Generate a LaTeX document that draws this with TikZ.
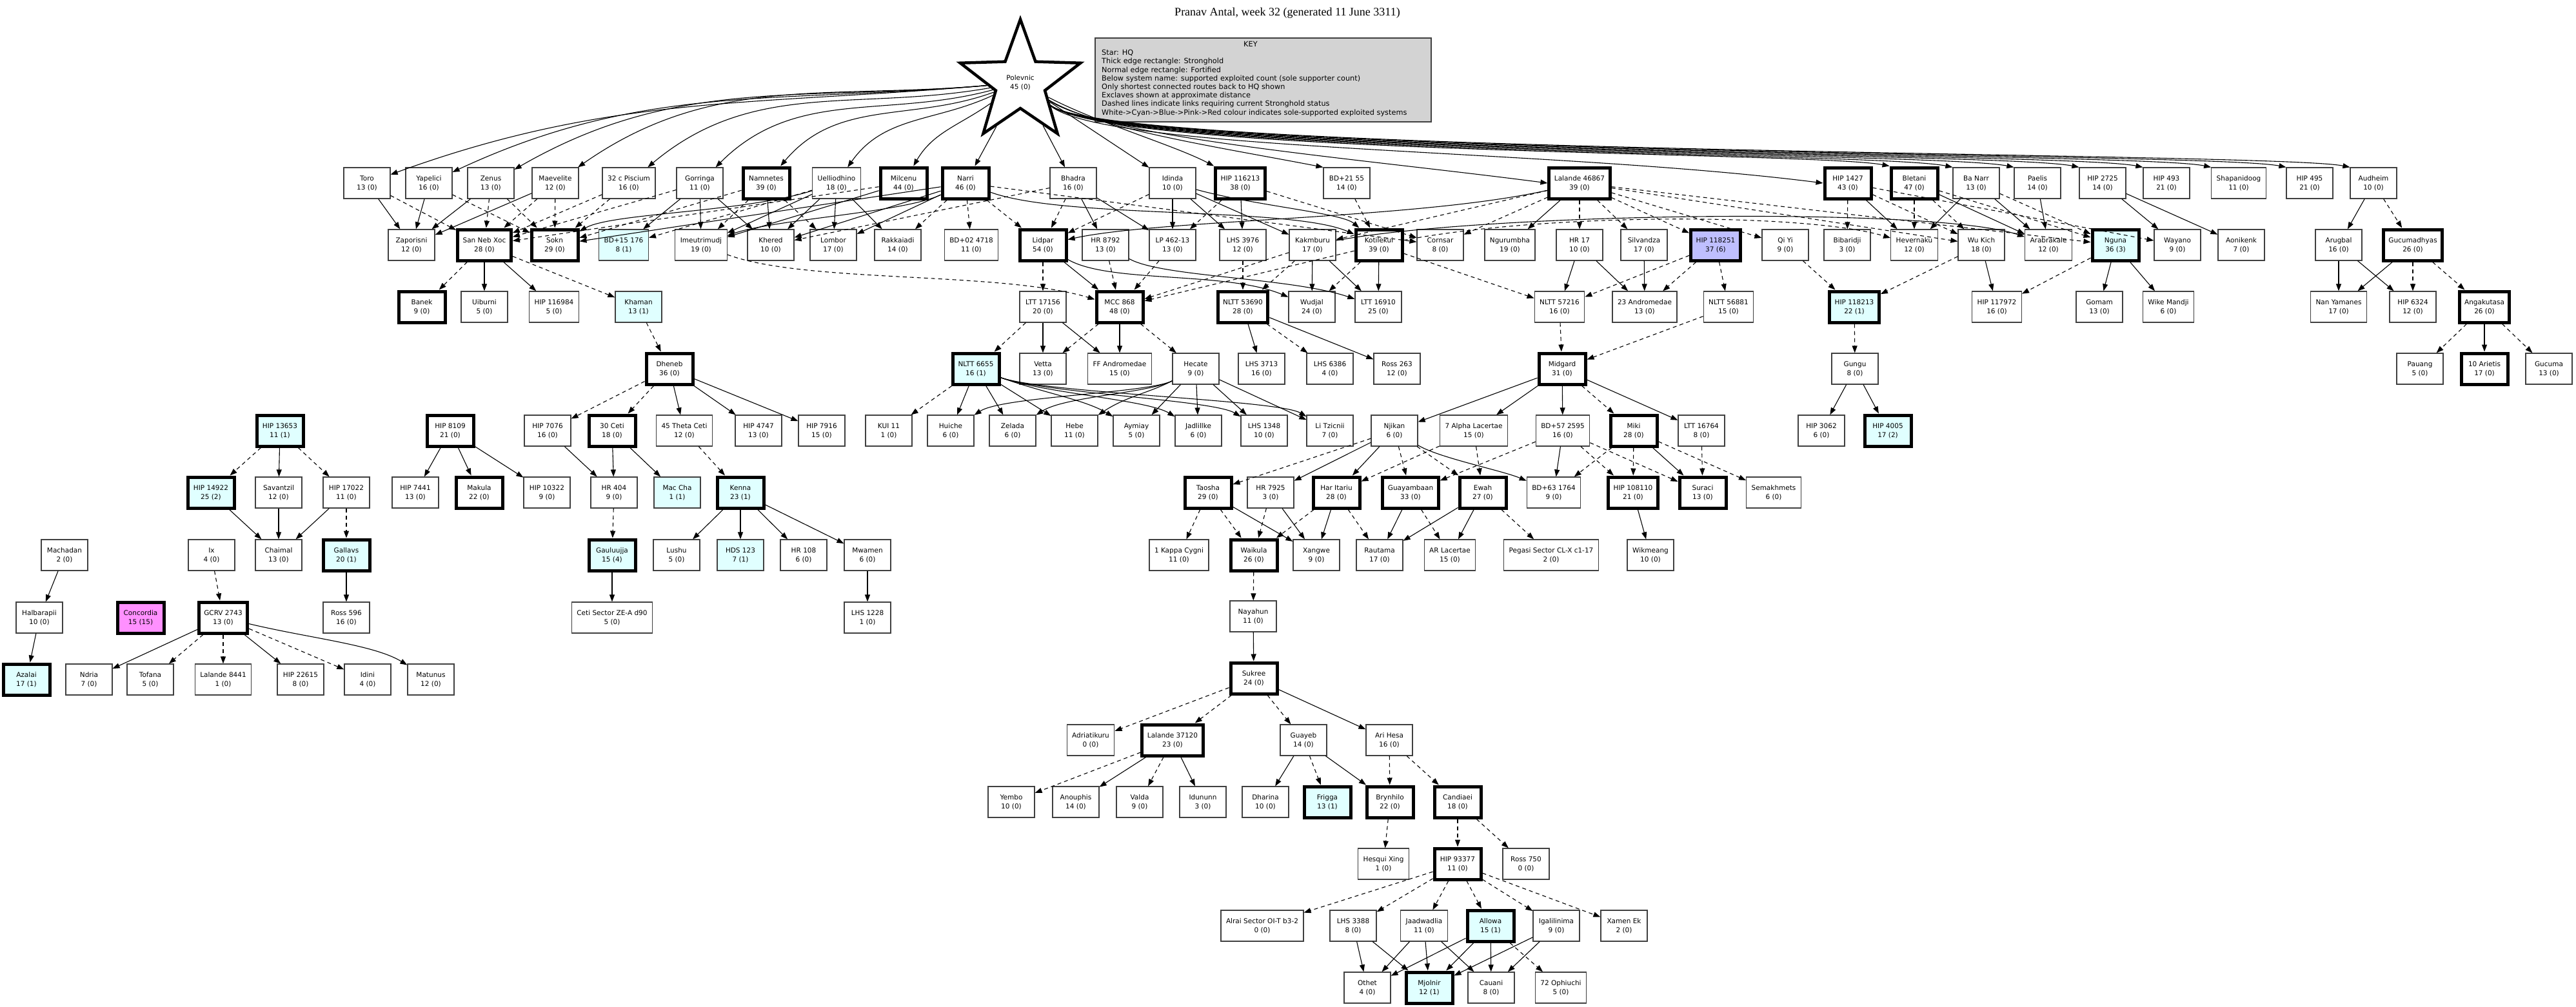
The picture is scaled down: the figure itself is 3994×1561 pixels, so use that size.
\documentclass[tikz,border=0pt]{standalone}
\usepackage{fontspec}
\setmainfont{DejaVu Sans}
\newfontfamily\titlefont{Liberation Serif}
\usetikzlibrary{arrows.meta,shapes.geometric}
\definecolor{cy}{HTML}{E0FFFF}
\definecolor{bl}{HTML}{BFBFFF}
\definecolor{pk}{HTML}{FF90FF}
\definecolor{keyg}{HTML}{D3D3D3}
\tikzset{
 nd/.style={draw=black!75, line width=1.2pt, fill=white, minimum width=72pt, minimum height=48pt, inner xsep=8pt, align=center, font=\fontsize{10.5}{14}\selectfont},
 sh/.style={line width=5pt, draw=black},
 c/.style={fill=cy}, b/.style={fill=bl}, p/.style={fill=pk},
 e/.style={line width=1.1pt, -{Triangle[length=11pt,width=8pt]}},
 d/.style={e, dash pattern=on 6pt off 5pt},
}
\newcommand{\N}[5]{\node[nd,#4] (#1) at (#2,#3) {#5};}
\begin{document}
\begin{tikzpicture}[x=1pt,y=-1pt]
\useasboundingbox (0,0) rectangle (3994,1561);
\node[font=\titlefont\fontsize{18}{20}\selectfont] (title) at (1996,20) {Pranav Antal, week 32 (generated 11 June 3311)};
\node[draw=black!75, line width=1.2pt, fill=keyg, minimum width=521pt, minimum height=130pt, inner sep=0pt] (key) at (1958.5,124) {};
\node[font=\fontsize{11.3}{13.2}\selectfont, align=left, anchor=north west, inner sep=0pt] (keyt) at (1708,64) {\hspace*{220pt}KEY\\Star: HQ\\Thick edge rectangle: Stronghold\\Normal edge rectangle: Fortified\\Below system name: supported exploited count (sole supporter count)\\Only shortest connected routes back to HQ shown\\Exclaves shown at approximate distance\\Dashed lines indicate links requiring current Stronghold status\\White->Cyan->Blue->Pink->Red colour indicates sole-supported exploited systems};
\node[star, star points=5, star point ratio=2.45, minimum size=196pt, draw, line width=4.5pt, fill=white, align=center, font=\fontsize{10.5}{14}\selectfont, inner sep=0pt] (pol) at (1582,128) {Polevnic\\45 (0)};
% row 1
\N{toro}{569}{284}{}{Toro\\13 (0)}
\N{yap}{665}{284}{}{Yapelici\\16 (0)}
\N{zen}{761}{284}{}{Zenus\\13 (0)}
\N{mae}{861}{284}{}{Maevelite\\12 (0)}
\N{pis}{975}{284}{}{32 c Piscium\\16 (0)}
\N{gor}{1085}{284}{}{Gorringa\\11 (0)}
\N{nam}{1188}{284}{sh}{Namnetes\\39 (0)}
\N{uel}{1297}{284}{}{Uelliodhino\\18 (0)}
\N{mil}{1401}{284}{sh}{Milcenu\\44 (0)}
\N{nar}{1497}{284}{sh}{Narri\\46 (0)}
\N{bha}{1664}{284}{}{Bhadra\\16 (0)}
\N{idi}{1818}{284}{}{Idinda\\10 (0)}
\N{h116}{1923}{284}{sh}{HIP 116213\\38 (0)}
\N{bd21}{2088}{284}{}{BD+21 55\\14 (0)}
\N{l468}{2449}{284}{sh}{Lalande 46867\\39 (0)}
\N{h1427}{2865}{284}{sh}{HIP 1427\\43 (0)}
\N{ble}{2968}{284}{sh}{Bletani\\47 (0)}
\N{ban}{3064}{284}{}{Ba Narr\\13 (0)}
\N{pae}{3159}{284}{}{Paelis\\14 (0)}
\N{h2725}{3260}{284}{}{HIP 2725\\14 (0)}
\N{h493}{3359}{284}{}{HIP 493\\21 (0)}
\N{sha}{3471}{284}{}{Shapanidoog\\11 (0)}
\N{h495}{3581}{284}{}{HIP 495\\21 (0)}
\N{aud}{3680}{284}{}{Audheim\\10 (0)}
% row 2
\N{zap}{638}{380}{}{Zaporisni\\12 (0)}
\N{snx}{751}{380}{sh}{San Neb Xoc\\28 (0)}
\N{sokn}{860}{380}{sh}{Sokn\\29 (0)}
\N{bd15}{967}{380}{c}{BD+15 176\\8 (1)}
\N{ime}{1087}{380}{}{Imeutrimudj\\19 (0)}
\N{khe}{1195}{380}{}{Khered\\10 (0)}
\N{lom}{1292}{380}{}{Lombor\\17 (0)}
\N{rak}{1392}{380}{}{Rakkaiadi\\14 (0)}
\N{bd02}{1506}{380}{}{BD+02 4718\\11 (0)}
\N{lid}{1617}{380}{sh}{Lidpar\\54 (0)}
\N{hr8792}{1714}{380}{}{HR 8792\\13 (0)}
\N{lp}{1818}{380}{}{LP 462-13\\13 (0)}
\N{lhs3976}{1927}{380}{}{LHS 3976\\12 (0)}
\N{kak}{2035}{380}{}{Kakmburu\\17 (0)}
\N{kot}{2138}{380}{sh}{Kotilekui\\39 (0)}
\N{cor}{2233}{380}{}{Cornsar\\8 (0)}
\N{ngu}{2341}{380}{}{Ngurumbha\\19 (0)}
\N{hr17}{2449}{380}{}{HR 17\\10 (0)}
\N{sil}{2549}{380}{}{Silvandza\\17 (0)}
\N{h118251}{2660}{380}{sh,b}{HIP 118251\\37 (6)}
\N{qiyi}{2768}{380}{}{Qi Yi\\9 (0)}
\N{bib}{2864}{380}{}{Bibaridji\\3 (0)}
\N{hev}{2968}{380}{}{Hevernaku\\12 (0)}
\N{wuk}{3072}{380}{}{Wu Kich\\18 (0)}
\N{ara}{3176}{380}{}{Arabrakale\\12 (0)}
\N{nguna}{3280}{380}{sh,c}{Nguna\\36 (3)}
\N{way}{3376}{380}{}{Wayano\\9 (0)}
\N{aon}{3475}{380}{}{Aonikenk\\7 (0)}
\N{aru}{3626}{380}{}{Arugbal\\16 (0)}
\N{guc}{3741}{380}{sh}{Gucumadhyas\\26 (0)}
% row 3
\N{banek}{654}{476}{sh}{Banek\\9 (0)}
\N{uib}{751}{476}{}{Uiburni\\5 (0)}
\N{h116984}{859}{476}{}{HIP 116984\\5 (0)}
\N{kha}{990}{476}{c}{Khaman\\13 (1)}
\N{ltt17156}{1617}{476}{}{LTT 17156\\20 (0)}
\N{mcc}{1736}{476}{sh}{MCC 868\\48 (0)}
\N{n53690}{1927}{476}{sh}{NLTT 53690\\28 (0)}
\N{wud}{2034}{476}{}{Wudjal\\24 (0)}
\N{ltt16910}{2137}{476}{}{LTT 16910\\25 (0)}
\N{n57216}{2418}{476}{}{NLTT 57216\\16 (0)}
\N{and23}{2550}{476}{}{23 Andromedae\\13 (0)}
\N{n56881}{2680}{476}{}{NLTT 56881\\15 (0)}
\N{h118213}{2875}{476}{sh,c}{HIP 118213\\22 (1)}
\N{h117972}{3096}{476}{}{HIP 117972\\16 (0)}
\N{gom}{3255}{476}{}{Gomam\\13 (0)}
\N{wik}{3362}{476}{}{Wike Mandji\\6 (0)}
\N{nan}{3626}{476}{}{Nan Yamanes\\17 (0)}
\N{h6324}{3741}{476}{}{HIP 6324\\12 (0)}
\N{ang}{3852}{476}{sh}{Angakutasa\\26 (0)}
% row 4
\N{dhe}{1038}{572}{sh}{Dheneb\\36 (0)}
\N{n6655}{1513}{572}{sh,c}{NLTT 6655\\16 (1)}
\N{vet}{1617}{572}{}{Vetta\\13 (0)}
\N{ffa}{1736}{572}{}{FF Andromedae\\15 (0)}
\N{hec}{1854}{572}{}{Hecate\\9 (0)}
\N{lhs3713}{1956}{572}{}{LHS 3713\\16 (0)}
\N{lhs6386}{2062}{572}{}{LHS 6386\\4 (0)}
\N{ross263}{2166}{572}{}{Ross 263\\12 (0)}
\N{mid}{2422}{572}{sh}{Midgard\\31 (0)}
\N{gungu}{2876}{572}{}{Gungu\\8 (0)}
\N{pau}{3752}{572}{}{Pauang\\5 (0)}
\N{ari10}{3852}{572}{sh}{10 Arietis\\17 (0)}
\N{gucuma}{3952}{572}{}{Gucuma\\13 (0)}
% row 5
\N{h13653}{434}{668}{sh,c}{HIP 13653\\11 (1)}
\N{h8109}{698}{668}{sh}{HIP 8109\\21 (0)}
\N{h7076}{849}{668}{}{HIP 7076\\16 (0)}
\N{ceti30}{949}{668}{sh}{30 Ceti\\18 (0)}
\N{theta}{1061}{668}{}{45 Theta Ceti\\12 (0)}
\N{h4747}{1176}{668}{}{HIP 4747\\13 (0)}
\N{h7916}{1274}{668}{}{HIP 7916\\15 (0)}
\N{kui}{1378}{668}{}{KUI 11\\1 (0)}
\N{hui}{1474}{668}{}{Huiche\\6 (0)}
\N{zel}{1570}{668}{}{Zelada\\6 (0)}
\N{hebe}{1666}{668}{}{Hebe\\11 (0)}
\N{aym}{1762}{668}{}{Aymiay\\5 (0)}
\N{jad}{1858}{668}{}{Jadlillke\\6 (0)}
\N{lhs1348}{1960}{668}{}{LHS 1348\\10 (0)}
\N{litz}{2062}{668}{}{Li Tzicnii\\7 (0)}
\N{nji}{2162}{668}{}{Njikan\\6 (0)}
\N{alpha7}{2285}{668}{}{7 Alpha Lacertae\\15 (0)}
\N{bd57}{2423}{668}{}{BD+57 2595\\16 (0)}
\N{miki}{2533}{668}{sh}{Miki\\28 (0)}
\N{ltt16764}{2638}{668}{}{LTT 16764\\8 (0)}
\N{h3062}{2824}{668}{}{HIP 3062\\6 (0)}
\N{h4005}{2927}{668}{sh,c}{HIP 4005\\17 (2)}
% row 6
\N{h14922}{327}{764}{sh,c}{HIP 14922\\25 (2)}
\N{sav}{432}{764}{}{Savantzil\\12 (0)}
\N{h17022}{537}{764}{}{HIP 17022\\11 (0)}
\N{h7441}{644}{764}{}{HIP 7441\\13 (0)}
\N{mak}{743}{764}{sh}{Makula\\22 (0)}
\N{h10322}{848}{764}{}{HIP 10322\\9 (0)}
\N{hr404}{952}{764}{}{HR 404\\9 (0)}
\N{mac}{1050}{764}{c}{Mac Cha\\1 (1)}
\N{ken}{1148}{764}{sh,c}{Kenna\\23 (1)}
\N{tao}{1873}{764}{sh}{Taosha\\29 (0)}
\N{hr7925}{1970}{764}{}{HR 7925\\3 (0)}
\N{har}{2072}{764}{sh}{Har Itariu\\28 (0)}
\N{gua}{2187}{764}{sh}{Guayambaan\\33 (0)}
\N{ewah}{2299}{764}{sh}{Ewah\\27 (0)}
\N{bd63}{2409}{764}{}{BD+63 1764\\9 (0)}
\N{h108110}{2532}{764}{sh}{HIP 108110\\21 (0)}
\N{sur}{2640}{764}{sh}{Suraci\\13 (0)}
\N{sem}{2750}{764}{}{Semakhmets\\6 (0)}
% row 7
\N{mach}{100}{861}{}{Machadan\\2 (0)}
\N{ix}{328}{861}{}{Ix\\4 (0)}
\N{cha}{432}{861}{}{Chaimal\\13 (0)}
\N{gal}{537}{861}{sh,c}{Gallavs\\20 (1)}
\N{gau}{949}{861}{sh,c}{Gauluujja\\15 (4)}
\N{lus}{1049}{861}{}{Lushu\\5 (0)}
\N{hds}{1148}{861}{c}{HDS 123\\7 (1)}
\N{hr108}{1246}{861}{}{HR 108\\6 (0)}
\N{mwa}{1345}{861}{}{Mwamen\\6 (0)}
\N{kap}{1828}{861}{}{1 Kappa Cygni\\11 (0)}
\N{wai}{1944}{861}{sh}{Waikula\\26 (0)}
\N{xan}{2041}{861}{}{Xangwe\\9 (0)}
\N{rau}{2139}{861}{}{Rautama\\17 (0)}
\N{arl}{2248}{861}{}{AR Lacertae\\15 (0)}
\N{peg}{2405}{861}{}{Pegasi Sector CL-X c1-17\\2 (0)}
\N{wikm}{2559}{861}{}{Wikmeang\\10 (0)}
% row 8
\N{hal}{61}{958}{}{Halbarapii\\10 (0)}
\N{con}{218}{958}{sh,p}{Concordia\\15 (15)}
\N{gcrv}{346}{958}{sh}{GCRV 2743\\13 (0)}
\N{ross596}{537}{958}{}{Ross 596\\16 (0)}
\N{ceti}{949}{958}{}{Ceti Sector ZE-A d90\\5 (0)}
\N{lhs1228}{1345}{958}{}{LHS 1228\\1 (0)}
\N{nay}{1943}{956}{}{Nayahun\\11 (0)}
% row 9
\N{aza}{41}{1054}{sh,c}{Azalai\\17 (1)}
\N{ndr}{138}{1054}{}{Ndria\\7 (0)}
\N{tof}{233}{1054}{}{Tofana\\5 (0)}
\N{l8441}{346}{1054}{}{Lalande 8441\\1 (0)}
\N{h22615}{466}{1054}{}{HIP 22615\\8 (0)}
\N{idini}{570}{1054}{}{Idini\\4 (0)}
\N{mat}{668}{1054}{}{Matunus\\12 (0)}
\N{suk}{1944}{1052}{sh}{Sukree\\24 (0)}
% row 10
\N{adr}{1691}{1148}{}{Adriatikuru\\0 (0)}
\N{l37120}{1818}{1148}{sh}{Lalande 37120\\23 (0)}
\N{guay}{2021}{1148}{}{Guayeb\\14 (0)}
\N{arih}{2154}{1148}{}{Ari Hesa\\16 (0)}
% row 11
\N{yem}{1568}{1244}{}{Yembo\\10 (0)}
\N{ano}{1668}{1244}{}{Anouphis\\14 (0)}
\N{val}{1767}{1244}{}{Valda\\9 (0)}
\N{idu}{1865}{1244}{}{Idununn\\3 (0)}
\N{dha}{1962}{1244}{}{Dharina\\10 (0)}
\N{fri}{2058}{1244}{sh,c}{Frigga\\13 (1)}
\N{bry}{2155}{1244}{sh}{Brynhilo\\22 (0)}
\N{can}{2260}{1244}{sh}{Candiaei\\18 (0)}
% row 12
\N{hes}{2145}{1340}{}{Hesqui Xing\\1 (0)}
\N{h93377}{2260}{1340}{sh}{HIP 93377\\11 (0)}
\N{ross750}{2366}{1340}{}{Ross 750\\0 (0)}
% row 13
\N{alr}{1957}{1436}{}{Alrai Sector OI-T b3-2\\0 (0)}
\N{lhs3388}{2098}{1436}{}{LHS 3388\\8 (0)}
\N{jaa}{2208}{1436}{}{Jaadwadlia\\11 (0)}
\N{all}{2311}{1436}{sh,c}{Allowa\\15 (1)}
\N{iga}{2413}{1436}{}{Igalilinima\\9 (0)}
\N{xam}{2518}{1436}{}{Xamen Ek\\2 (0)}
% row 14
\N{oth}{2120}{1532}{}{Othet\\4 (0)}
\N{mjo}{2216}{1532}{sh,c}{Mjolnir\\12 (1)}
\N{cau}{2312}{1532}{}{Cauani\\8 (0)}
\N{oph}{2420}{1532}{}{72 Ophiuchi\\5 (0)}
% HQ edges
\foreach \n/\o/\i in {toro/185/20,yap/185/25,zen/185/30,mae/185/35,pis/190/40,gor/195/45,nam/200/50,uel/205/55,mil/215/60}
  \draw[e] (pol) to[out=\o,in=\i] (\n);
\draw[e] (pol) -- (nar); \draw[e] (pol) -- (bha); \draw[e] (pol) -- (idi);
\draw[e] (pol) .. controls (1700,190) and (1820,225) .. (h116.north west);
\draw[e] (pol) .. controls (1700,200) and (1900,230) .. (bd21.north west);
\draw[e] (pol) .. controls (1720,215) and (2100,245) .. (l468.west);
\draw[e] (pol) .. controls (1720,235) and (2400,230) .. (h1427.west);
\foreach \n/\x in {ble/2930,ban/3028,pae/3123,h2725/3224,h493/3323,sha/3435,h495/3545,aud/3644}
  \draw[e] (pol) .. controls (1730,240) and (\x-120,235) .. (\n.north west);
% row1 -> row2
\foreach \a/\b in {toro/zap,yap/zap,zen/zap,mae/zap,gor/bd15,gor/ime,gor/khe,nam/khe,uel/ime,uel/khe,uel/lom,uel/rak,mil/ime,nar/sokn,nar/khe,nar/lom,bha/hr8792,bha/lp,idi/lp,idi/lhs3976,idi/kak,h116/lhs3976,l468/ngu,h1427/hev,ble/ara,ban/hev,ban/ara,pae/ara,h2725/way,h2725/aon,aud/aru}
  \draw[e] (\a) -- (\b);
\draw[e] (uel) .. controls (1150,330) and (950,330) .. (sokn);
\draw[e] (nar) .. controls (1400,330) and (1200,340) .. (ime);
\draw[e] (idi) .. controls (1950,320) and (2080,330) .. (kot);
\draw[e] (nar) .. controls (1650,340) and (2000,320) .. (kot);
\draw[e] (l468) .. controls (2200,340) and (1800,340) .. (lid);
\draw[e] (kak) .. controls (2300,330) and (3000,320) .. (ara);
\foreach \a/\b in {toro/snx,yap/sokn,zen/snx,zen/sokn,mae/snx,mae/sokn,pis/snx,pis/sokn,gor/snx,nam/sokn,nam/ime,nam/lom,uel/bd15,mil/snx,nar/rak,nar/bd02,nar/lid,nar/cor,bha/lid,bha/khe,idi/lid,h116/lp,h116/cor,bd21/kot,l468/kak,l468/cor,l468/hr17,l468/sil,l468/h118251,l468/qiyi,l468/wuk,l468/nguna,h1427/bib,h1427/wuk,h1427/way,ble/hev,ble/nguna,ble/wuk,ban/nguna,aud/guc}
  \draw[d] (\a) -- (\b);
\draw[d] (kot) .. controls (2400,330) and (2800,330) .. (hev);
% row2 -> row3
\foreach \a/\b in {snx/uib,snx/h116984,lid/mcc,kak/wud,kak/ltt16910,kot/ltt16910,hr17/n57216,hr17/and23,sil/and23,wuk/h117972,nguna/gom,nguna/wik,aru/nan,aru/h6324,guc/nan}
  \draw[e] (\a) -- (\b);
\draw[e] (lid) .. controls (1720,440) and (1900,420) .. (wud);
\draw[e] (hr8792) .. controls (1800,430) and (2000,430) .. (ltt16910);
\foreach \a/\b in {snx/banek,snx/kha,lid/ltt17156,hr8792/mcc,lp/mcc,kak/mcc,kak/n53690,lhs3976/n53690,kot/wud,kot/mcc,kot/n57216,h118251/n57216,h118251/and23,h118251/n56881,qiyi/h118213,wuk/h118213,nguna/h117972,guc/h6324,guc/ang}
  \draw[d] (\a) -- (\b);
\draw[d] (ime) .. controls (1250,440) and (1550,420) .. (mcc);
% row3 -> row4
\foreach \a/\b in {ltt17156/vet,ltt17156/ffa,mcc/ffa,n53690/lhs3713,n53690/ross263,ang/ari10}
  \draw[e] (\a) -- (\b);
\foreach \a/\b in {kha/dhe,ltt17156/n6655,mcc/vet,mcc/hec,n53690/lhs6386,n57216/mid,n56881/mid,h118213/gungu,ang/pau,ang/gucuma}
  \draw[d] (\a) -- (\b);
% row4 -> row5
\draw[d] (n6655) -- (kui);
\foreach \b in {hui,zel,hebe}
  \draw[e] (n6655) -- (\b);
\foreach \b/\x in {aym/1762,jad/1858,lhs1348/1960,litz/2062}
  \draw[e] (n6655) .. controls (1620,610) and (\x-80,620) .. (\b);
\foreach \b in {aym,jad,lhs1348,litz}
  \draw[e] (hec) -- (\b);
\foreach \b/\x in {hui/1474,zel/1570,hebe/1666}
  \draw[e] (hec) .. controls (1780,610) and (\x+80,615) .. (\b);
\foreach \b in {nji,alpha7,bd57,ltt16764}
  \draw[e] (mid) -- (\b);
\draw[d] (mid) -- (miki);
\draw[e] (gungu) -- (h3062); \draw[e] (gungu) -- (h4005);
\draw[d] (dhe) -- (h7076); \draw[d] (dhe) -- (ceti30);
\draw[e] (dhe) -- (theta); \draw[e] (dhe) -- (h4747); \draw[e] (dhe) -- (h7916);
% row5 -> row6
\draw[d] (h13653) -- (h14922); \draw[e] (h13653) -- (sav); \draw[d] (h13653) -- (h17022);
\draw[e] (h8109) -- (h7441); \draw[e] (h8109) -- (mak); \draw[e] (h8109) -- (h10322);
\draw[e] (h7076) -- (hr404); \draw[e] (ceti30) -- (hr404); \draw[e] (ceti30) -- (mac);
\draw[d] (theta) -- (ken);
\draw[d] (nji) -- (tao); \draw[e] (nji) -- (hr7925); \draw[e] (nji) -- (har);
\draw[d] (nji) -- (gua); \draw[d] (nji) -- (ewah);
\draw[e] (nji) .. controls (2230,710) and (2330,730) .. (bd63);
\draw[d] (alpha7) -- (har); \draw[d] (alpha7) -- (ewah);
\draw[d] (bd57) -- (gua); \draw[e] (bd57) -- (bd63); \draw[d] (bd57) -- (h108110); \draw[d] (bd57) -- (sur);
\draw[d] (miki) -- (bd63); \draw[d] (miki) -- (h108110); \draw[e] (miki) -- (sur); \draw[d] (miki) -- (sem);
\draw[d] (ltt16764) -- (sur);
% row6 -> row7
\draw[e] (h14922) -- (cha); \draw[e] (sav) -- (cha); \draw[e] (h17022) -- (cha); \draw[d] (h17022) -- (gal);
\draw[d] (hr404) -- (gau);
\foreach \b in {lus,hds,hr108,mwa}
  \draw[e] (ken) -- (\b);
\draw[d] (tao) -- (kap); \draw[d] (tao) -- (wai); \draw[e] (tao) -- (xan);
\draw[d] (hr7925) -- (wai); \draw[e] (hr7925) -- (xan);
\draw[d] (har) -- (wai); \draw[e] (har) -- (xan); \draw[d] (har) -- (rau);
\draw[e] (gua) -- (rau); \draw[d] (gua) -- (arl);
\draw[e] (ewah) -- (rau); \draw[e] (ewah) -- (arl); \draw[d] (ewah) -- (peg);
\draw[e] (h108110) -- (wikm);
% row7 -> row8
\draw[e] (mach) -- (hal); \draw[d] (ix) -- (gcrv); \draw[e] (gal) -- (ross596);
\draw[e] (gau) -- (ceti); \draw[e] (mwa) -- (lhs1228); \draw[d] (wai) -- (nay);
% row8 -> row9
\draw[e] (hal) -- (aza);
\draw[e] (gcrv) -- (ndr); \draw[d] (gcrv) -- (tof); \draw[d] (gcrv) -- (l8441);
\draw[e] (gcrv) -- (h22615); \draw[d] (gcrv) -- (idini);
\draw[e] (gcrv) .. controls (480,990) and (580,1000) .. (mat);
\draw[e] (nay) -- (suk);
% lower tree
\draw[d] (suk) -- (adr); \draw[d] (suk) -- (l37120); \draw[d] (suk) -- (guay); \draw[e] (suk) -- (arih);
\draw[d] (l37120) -- (yem); \draw[e] (l37120) -- (ano); \draw[d] (l37120) -- (val); \draw[e] (l37120) -- (idu);
\draw[e] (guay) -- (dha); \draw[d] (guay) -- (fri); \draw[e] (guay) -- (bry);
\draw[d] (arih) -- (bry); \draw[d] (arih) -- (can);
\draw[d] (bry) -- (hes);
\draw[d] (can) -- (h93377); \draw[d] (can) -- (ross750);
\foreach \b in {alr,lhs3388,jaa,all,iga,xam}
  \draw[d] (h93377) -- (\b);
\draw[e] (lhs3388) -- (oth); \draw[e] (lhs3388) -- (mjo);
\draw[e] (jaa) -- (oth); \draw[e] (jaa) -- (mjo); \draw[e] (jaa) -- (cau);
\draw[e] (all) -- (oth); \draw[e] (all) -- (mjo); \draw[e] (all) -- (cau); \draw[d] (all) -- (oph);
\draw[e] (iga) -- (mjo); \draw[e] (iga) -- (cau);
\end{tikzpicture}
\end{document}
